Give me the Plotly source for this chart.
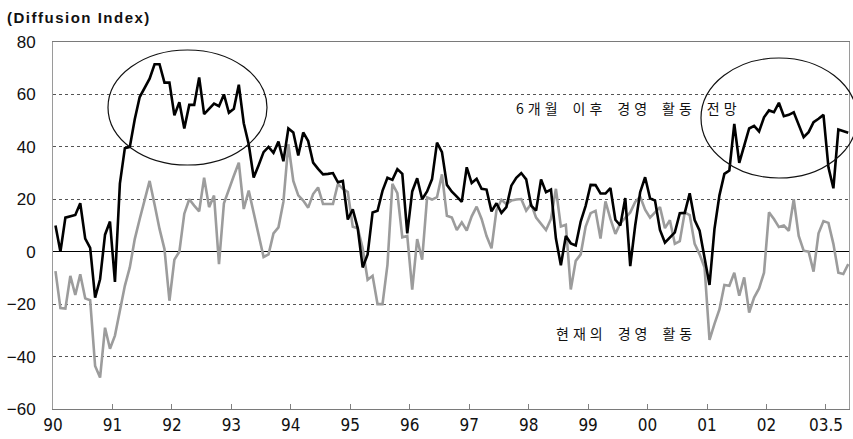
import plotly.graph_objects as go

# ---------------- data (monthly, Jan 1990 .. May 2003) ----------------
months = list(range(161))

outlook = [  # 6개월 이후 경영 활동 전망 (black)
    10, 0, 13, 13.5, 14, 18.5, 5, 1.5, -17.5, -10.5, 6.5, 11.5,
    -11.5, 26, 39.5, 40, 50.5, 59, 62.5, 66, 71.5, 71.5, 64.5, 64.5,
    52, 57, 47, 56, 56, 66.5, 52.5, 54.5, 56.5, 55.5, 60, 53,
    54.5, 63.7, 49, 41, 28.3, 33, 38, 40, 37.7, 42, 34.5, 47,
    45.5, 36.7, 45.5, 42.2, 34, 31.6, 29.5, 29.7, 30, 26.5, 27, 12.3,
    16.2, 9, -6, -1, 15, 15.6, 23.2, 28.2, 27.4, 31.5, 29.7, 7,
    23, 28, 20, 23, 27.7, 41.6, 38, 25.5, 22.9, 21, 19, 32.2,
    26.2, 27.8, 24, 23.7, 15.4, 18.5, 14.8, 17, 25.2, 28.2, 30, 27.6,
    17.6, 15.7, 27.6, 22.7, 23.7, 5, -5.2, 6, 3.2, 2.4, 11.5, 17.5,
    25.5, 25.4, 22.2, 22.2, 24.3, 12.2, 10, 20.5, -5.5, 10, 22.7, 28.4,
    20.4, 19.5, 8.3, 3.5, 5.4, 7.4, 14.7, 14.8, 22.3, 12.1, 8, -2,
    -12.7, 8.7, 21.5, 29.7, 31, 48.8, 33.9, 40.5, 47, 48, 45.9, 51.3,
    53.9, 53.2, 56.8, 51.7, 52.2, 53.2, 48.8, 43.7, 45.6, 49.4, 50.7, 52.2,
    32.2, 24.2, 46.6, 45.9, 45.4,
]

current = [  # 현재의 경영 활동 (gray)
    -7.4, -21.5, -21.7, -9.2, -16.5, -8.6, -17.8, -18.5, -43.6, -48, -29, -37,
    -32, -23, -13, -6, 4.8, 12.5, 20, 27, 18, 8.7, 1, -18.7,
    -3, 0, 14.5, 20, 17.6, 15.4, 28.2, 17, 21.4, -4.7, 18.5, 24,
    29, 34, 16.3, 23.3, 15, 6, -2, -1, 7, 9.3, 19, 41,
    27, 21.5, 19.5, 16.8, 22, 24.5, 18.2, 18.2, 18.2, 25.9, 24, 22.8,
    9.5, 9, 1.3, -10.7, -9.2, -20, -20, -5, 25.9, 22.3, 5.5, 6,
    -14.5, 4.8, -3, 20.7, 19.9, 20.8, 29.5, 13.7, 13, 8.3, 11.2, 8.1,
    13.5, 17.2, 12.5, 6, 1.3, 15.8, 19.8, 18.2, 19.5, 19.9, 20.1, 15.7,
    18.2, 13, 10.8, 8.3, 12.5, 24, 9.6, 10.3, -14.4, -3.5, -1, 9.6,
    14.7, 15.6, 5, 19.2, 12.5, 6.8, 10.9, 13.1, 15, 19, 21, 16,
    13, 15, 17, 9, 12, 3, 4, 15, 14, 3, -1, -6,
    -33.6, -27.5, -22, -12.7, -13, -8, -16.8, -9.8, -23.2, -17.5, -14, -8,
    15, 12.5, 9.4, 10, 8, 20, 6, 0.4, 0, -7.6, 7, 11.7,
    11, 3, -8, -8.5, -4.7,
]

year_labels = ["90", "91", "92", "93", "94", "95", "96", "97", "98", "99",
               "00", "01", "02", "03.5"]
year_ticks = [12 * k - 0.5 for k in range(len(year_labels))]
y_ticks = [-60, -40, -20, 0, 20, 40, 60, 80]

label_outlook = "6개월 이후 경영 활동 전망"
label_current = "현재의 경영 활동"
y_unit = "(Diffusion Index)"

# ---------------- layout geometry ----------------
W, H = 853, 439
ML, MR, MT, MB = 53, 4, 42, 30
PW, PH = W - ML - MR, H - MT - MB


def px(x):
    return (x - ML) / PW


def py(y):
    return (H - MB - y) / PH


fig = go.Figure()
fig.add_trace(go.Scatter(x=months, y=current, mode="lines",
                         line=dict(color="#9c9c9c", width=2.6),
                         hoverinfo="skip"))
fig.add_trace(go.Scatter(x=months, y=outlook, mode="lines",
                         line=dict(color="#000000", width=2.6),
                         hoverinfo="skip"))

fig.update_layout(
    width=W, height=H,
    margin=dict(l=ML, r=MR, t=MT, b=MB, pad=0, autoexpand=False),
    plot_bgcolor="white", paper_bgcolor="white",
    showlegend=False,
    xaxis=dict(
        range=[-0.5, 160.15], automargin=False,
        tickmode="array", tickvals=year_ticks, ticktext=year_labels,
        ticks="inside", ticklen=5, tickcolor="#808080", tickwidth=1,
        showgrid=False, zeroline=False,
        showline=True, linecolor="#7a7a7a", linewidth=1, mirror=True,
        tickfont=dict(family="Liberation Sans Narrow, Arial Narrow, DejaVu Sans Condensed",
                      size=17, color="#111111"),
        ticklabelstandoff=1,
    ),
    yaxis=dict(
        range=[-60, 80], automargin=False,
        tickmode="array", tickvals=y_ticks,
        showgrid=True, gridcolor="#555555", griddash="dot", gridwidth=1,
        zeroline=True, zerolinecolor="#000000", zerolinewidth=1.3,
        showline=True, linecolor="#9a9a9a", linewidth=1, mirror=True,
        ticks="",
        tickfont=dict(family="Arial", size=17, color="#111111"),
        ticklabelstandoff=13,
    ),
)

fig.add_annotation(xref="paper", yref="paper", x=px(5), y=py(18),
                   xanchor="left", yanchor="middle", showarrow=False,
                   text='<span style="letter-spacing:1.5px"><b>' + y_unit + '</b></span>',
                   font=dict(family="Arial", size=15, color="#111111"))

fig.add_annotation(xref="paper", yref="paper", x=px(514), y=py(108),
                   xanchor="left", yanchor="middle", showarrow=False,
                   text='<span style="letter-spacing:4px">' + label_outlook.replace(" ", "\u2002") + '</span>',
                   font=dict(family="Noto Sans CJK KR", size=14, color="#111111"))

fig.add_annotation(xref="paper", yref="paper", x=px(554), y=py(333),
                   xanchor="left", yanchor="middle", showarrow=False,
                   text='<span style="letter-spacing:4px">' + label_current.replace(" ", "\u2002") + '</span>',
                   font=dict(family="Noto Sans CJK KR", size=14, color="#111111"))

for (x0, x1, y0, y1) in [(108, 267, 50, 165), (701, 857, 58, 178)]:
    fig.add_shape(type="circle", xref="paper", yref="paper",
                  x0=px(x0), x1=px(x1), y0=py(y1), y1=py(y0),
                  line=dict(color="#111111", width=1.2), layer="above")

fig.write_html(
    "out.html",
    config={"displayModeBar": False},
    post_script="document.body.style.margin='0';document.body.style.overflow='hidden';",
)
